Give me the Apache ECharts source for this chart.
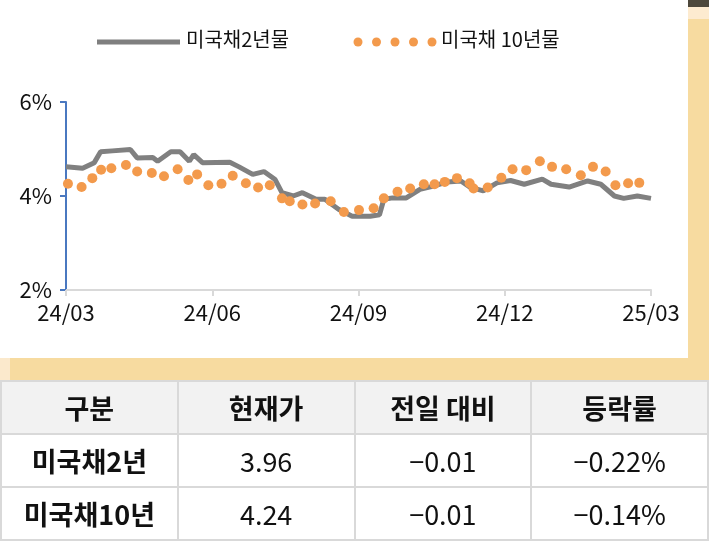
<!DOCTYPE html>
<html><head><meta charset="utf-8">
<script src="https://cdn.jsdelivr.net/npm/echarts@6/dist/echarts.min.js"></script>
<style>
body{margin:0;width:709px;height:541px;overflow:hidden;background:#fff;font-family:"Noto Sans CJK KR","Noto Sans",sans-serif;position:relative}
#c{position:absolute;left:0;top:0;width:709px;height:380px}
#band{position:absolute;left:0;top:358px;width:709px;height:22px;background:#f7dba0}
#band2{position:absolute;left:0;top:358px;width:10px;height:22px;background:#fbe9cc}
#side{position:absolute;left:688px;top:0;width:21px;height:380px;background:#f7dba0}
#side1{position:absolute;left:688px;top:0;width:21px;height:7px;background:#4d483c}
#side2{position:absolute;left:688px;top:7px;width:21px;height:12px;background:#fdebd0}
table{position:absolute;left:0;top:380px;width:709px;height:161px;border-collapse:collapse;table-layout:fixed}
td{border:2px solid #d9d9d9;text-align:center;font-size:27px;color:#111;padding:0}
tr.h td{background:#f2f2f2;font-weight:bold}
td.b{font-weight:bold}
</style></head><body>
<div id="c"></div>
<div id="side"></div><div id="side1"></div><div id="side2"></div>
<div id="band"></div><div id="band2"></div>
<table id="t"></table>
<script>
const xTickLabels = ['24/03','24/06','24/09','24/12','25/03'];
const seriesNames = ['미국채2년물','미국채 10년물'];
// [month offset from 24/03, yield %]
const ust2y = [[0,4.62],[0.34,4.59],[0.58,4.71],[0.71,4.94],[0.95,4.96],[1.32,4.99],[1.46,4.81],[1.78,4.82],[1.88,4.74],[2.15,4.94],[2.34,4.94],[2.53,4.74],[2.62,4.88],[2.80,4.71],[3.36,4.72],[3.55,4.62],[3.83,4.46],[4.06,4.52],[4.29,4.35],[4.43,4.07],[4.66,4.0],[4.85,4.07],[5.13,3.93],[5.31,3.93],[5.59,3.72],[5.87,3.57],[6.24,3.57],[6.43,3.60],[6.52,3.93],[6.70,3.96],[6.98,3.96],[7.26,4.14],[7.54,4.21],[7.82,4.30],[8.10,4.32],[8.28,4.19],[8.56,4.11],[8.84,4.28],[9.12,4.33],[9.40,4.25],[9.77,4.36],[9.95,4.25],[10.32,4.19],[10.70,4.32],[10.97,4.25],[11.25,4.0],[11.44,3.95],[11.72,4.0],[12.0,3.95]];
const ust10y = [[0.04,4.26],[0.32,4.19],[0.54,4.38],[0.72,4.56],[0.93,4.59],[1.23,4.66],[1.46,4.52],[1.76,4.49],[2.01,4.42],[2.29,4.57],[2.51,4.34],[2.69,4.46],[2.92,4.23],[3.19,4.26],[3.42,4.43],[3.69,4.27],[3.94,4.18],[4.18,4.23],[4.43,3.95],[4.59,3.89],[4.85,3.82],[5.11,3.84],[5.43,3.89],[5.70,3.66],[6.01,3.70],[6.31,3.74],[6.52,3.95],[6.80,4.09],[7.06,4.16],[7.34,4.25],[7.56,4.25],[7.77,4.30],[8.02,4.38],[8.28,4.27],[8.36,4.16],[8.65,4.18],[8.93,4.39],[9.16,4.57],[9.44,4.55],[9.72,4.74],[9.97,4.62],[10.26,4.57],[10.56,4.44],[10.81,4.62],[11.07,4.52],[11.27,4.23],[11.53,4.27],[11.76,4.28]];
const tableHeader = ['구분','현재가','전일 대비','등락률'];
const tableRows = [['미국채2년','3.96','−0.01','−0.22%'],['미국채10년','4.24','−0.01','−0.14%']];

let html = '<tr class="h">' + tableHeader.map(h=>'<td>'+h+'</td>').join('') + '</tr>';
tableRows.forEach(r=>{ html += '<tr>' + r.map((v,i)=>'<td'+(i===0?' class="b"':'')+'>'+v+'</td>').join('') + '</tr>'; });
document.getElementById('t').innerHTML = html;

const ch = echarts.init(document.getElementById('c'));
const font = '"Noto Sans CJK KR","Noto Sans",sans-serif';
const dots = [];
for (let i=0;i<5;i++) dots.push({type:'circle',shape:{cx:358+i*18.5,cy:42,r:4.5},style:{fill:'#f39a4c'}});
ch.setOption({
  animation:false,
  grid:{left:66,right:58,top:102,bottom:90},
  xAxis:{type:'value',min:0,max:12,interval:3,
    axisLine:{lineStyle:{color:'#d9d9d9',width:2}},
    axisTick:{show:true,length:6,lineStyle:{color:'#d9d9d9',width:2}},
    splitLine:{show:false},
    axisLabel:{formatter:v=>xTickLabels[v/3],fontSize:22,color:'#111',margin:12,fontFamily:font}},
  yAxis:{type:'value',min:2,max:6,interval:2,
    axisLine:{show:true,lineStyle:{color:'#4a78c0',width:2}},
    axisTick:{show:true,length:6,lineStyle:{color:'#4a78c0',width:2}},
    splitLine:{show:false},
    axisLabel:{formatter:v=>v+'%',fontSize:22,color:'#111',margin:14,fontFamily:font}},
  graphic:[
    {type:'line',shape:{x1:97,y1:42,x2:180,y2:42},style:{stroke:'#7f7f7f',lineWidth:5}},
    {type:'text',left:186,top:29,style:{text:seriesNames[0],fontSize:20,fill:'#111',fontFamily:font}},
    ...dots,
    {type:'text',left:441,top:29,style:{text:seriesNames[1],fontSize:20,fill:'#111',fontFamily:font}}
  ],
  series:[
    {name:seriesNames[0],type:'line',data:ust2y,showSymbol:false,lineStyle:{color:'#808080',width:5},z:2},
    {name:seriesNames[1],type:'scatter',data:ust10y,symbolSize:10,itemStyle:{color:'#f39a4c',opacity:1},z:3}
  ]
});
</script></body></html>
